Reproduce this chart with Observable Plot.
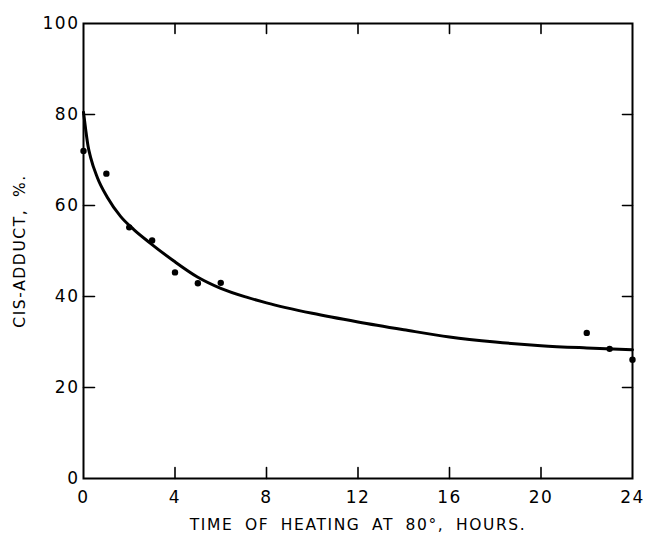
<!DOCTYPE html>
<html>
<head>
<meta charset="utf-8">
<script src="https://cdn.jsdelivr.net/npm/d3@7"></script>
<script src="https://cdn.jsdelivr.net/npm/@observablehq/plot@0.6"></script>
<style>
  html, body { margin: 0; padding: 0; background: white; }
  svg text { letter-spacing: 1.5px; }
  svg .title text { letter-spacing: 1.6px; word-spacing: 5px; }
</style>
</head>
<body>
<div id="chart"></div>
<script>
// Measured data points (hours, % cis-adduct)
const hours = [0, 1, 2, 3, 4, 5, 6, 22, 23, 24];
const cisPct = [72, 67, 55.2, 52.3, 45.3, 42.9, 43, 32, 28.5, 26.1];

// Smooth fitted curve
const curveHours = [0, 0.1, 0.2, 0.31, 0.6, 1.04, 1.62, 2.2, 2.9, 3.95, 4.98, 6, 7.16, 8, 10, 12, 14, 16, 18, 20, 22, 24];
const curvePct   = [80.5, 76.5, 73, 70.6, 66.2, 61.8, 57.6, 54.7, 51.8, 47.8, 44.3, 41.8, 39.8, 38.6, 36.3, 34.4, 32.7, 31.1, 30.0, 29.2, 28.7, 28.3];

const xTicks = [0, 4, 8, 12, 16, 20, 24];
const yTicks = [0, 20, 40, 60, 80, 100];
const xInner = [4, 8, 12, 16, 20];
const yInner = [20, 40, 60, 80];

const xTitle = "TIME OF HEATING AT 80°, HOURS.";
const yTitle = "CIS-ADDUCT, %.";

const points = hours.map((h, i) => ({h, v: cisPct[i]}));
const curve = curveHours.map((h, i) => ({h, v: curvePct[i]}));

// inward tick marks drawn as zero-width spikes anchored on the frame edges
const tick = (data, channel, frameAnchor, rotate, length) =>
  Plot.vector(data, {
    [channel]: d => d, frameAnchor, rotate, length,
    shape: "spike", r: 0, anchor: "start",
    stroke: "black", strokeWidth: 1.6, fill: "none"
  });

const chart = Plot.plot({
  width: 645,
  height: 536,
  marginLeft: 83,
  marginRight: 13,
  marginTop: 23,
  marginBottom: 58,
  style: {fontFamily: "DejaVu Sans", fontSize: "17px", color: "black", background: "white"},
  x: {domain: [0, 24]},
  y: {domain: [0, 100]},
  marks: [
    Plot.frame({stroke: "black", strokeWidth: 2}),
    tick(xInner, "x", "bottom", 0, 11),
    tick(xInner, "x", "top", 180, 10),
    tick(yInner, "y", "left", 90, 11),
    tick(yInner, "y", "right", -90, 10),
    Plot.axisX(xTicks, {anchor: "bottom", tickSize: 0, tickPadding: 12, label: null, fontSize: 17}),
    Plot.axisY(yTicks, {anchor: "left", tickSize: 0, tickPadding: 4, label: null, fontSize: 17}),
    Plot.line(curve, {x: "h", y: "v", curve: "monotone-x", stroke: "black", strokeWidth: 3}),
    Plot.dot(points, {x: "h", y: "v", r: 3.2, fill: "black"}),
    Plot.text([xTitle], {text: d => d, frameAnchor: "bottom", dy: 47, textAnchor: "middle", lineAnchor: "middle", fontSize: 15.5, className: "title"}),
    Plot.text([yTitle], {text: d => d, frameAnchor: "left", dx: -63, rotate: -90, textAnchor: "middle", lineAnchor: "middle", fontSize: 15.5, className: "title"})
  ]
});
document.getElementById("chart").appendChild(chart);
</script>
</body>
</html>
